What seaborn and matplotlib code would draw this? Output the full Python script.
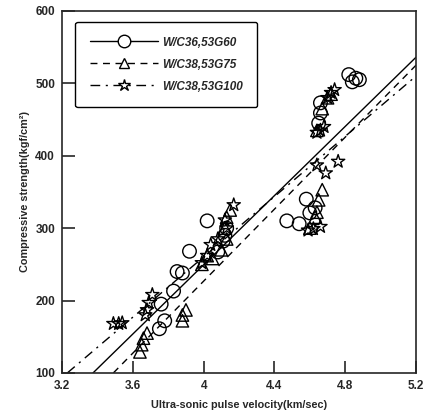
import numpy as np
import pandas as pd
import matplotlib
matplotlib.use("Agg")
import matplotlib.pyplot as plt
from matplotlib.lines import Line2D
import seaborn as sns

# series labels
labels = ["W/C36,53G60", "W/C38,53G75", "W/C38,53G100"]

# G60 (circles)
g60_x = [3.75, 3.78, 3.76, 3.83, 3.85, 3.88, 3.92, 4.02, 4.08, 4.12, 4.13, 4.11,
         4.47, 4.54, 4.58, 4.60, 4.63, 4.66, 4.66, 4.65, 4.82, 4.86, 4.84, 4.88]
g60_y = [161, 172, 195, 213, 240, 238, 268, 310, 267, 290, 300, 282,
         310, 306, 340, 321, 328, 473, 459, 445, 512, 507, 502, 505]

# G75 (triangles)
g75_x = [3.64, 3.65, 3.66, 3.68, 3.88, 3.88, 3.90, 3.99, 4.02, 4.05, 4.10, 4.13,
         4.12, 4.13, 4.15, 4.60, 4.63, 4.64, 4.65, 4.67, 4.64, 4.67, 4.70, 4.72]
g75_y = [129, 139, 148, 155, 172, 180, 187, 250, 262, 258, 270, 285,
         300, 315, 325, 300, 315, 322, 339, 353, 435, 465, 480, 485]

# G100 (stars)
g100_x = [3.49, 3.52, 3.54, 3.67, 3.68, 3.69, 3.71, 3.99, 4.02, 4.04, 4.08, 4.12,
          4.13, 4.17, 4.59, 4.62, 4.66, 4.64, 4.69, 4.76, 4.64, 4.66, 4.68, 4.70,
          4.72, 4.74]
g100_y = [168, 168, 169, 180, 187, 197, 208, 252, 262, 277, 285, 311,
          300, 332, 297, 299, 302, 387, 376, 392, 432, 435, 440, 480,
          487, 491]

# regression lines (end points)
fit_x = [[3.375, 5.2], [3.49, 5.2], [3.23, 5.2]]
fit_y = [[100, 536], [100, 525], [100, 510]]

xticks = [3.2, 3.6, 4.0, 4.4, 4.8, 5.2]
yticks = [100, 200, 300, 400, 500, 600]

sns.set_style("ticks")
plt.rcParams["font.family"] = ["Liberation Sans", "DejaVu Sans"]

fig = plt.figure(figsize=(4.28, 4.19), dpi=100)
ax = fig.add_axes([0.145, 0.110, 0.827, 0.864])

markers = ["o", "^", "*"]
sizes = [95, 80, 100]
styles = ["-", (0, (5, 4)), (0, (7, 4, 1.5, 4))]
series = [(g60_x, g60_y), (g75_x, g75_y), (g100_x, g100_y)]

for (sx, sy), m, s in zip(series, markers, sizes):
    sns.scatterplot(x=sx, y=sy, ax=ax, marker=m, s=s, facecolor="none",
                    edgecolor="black", linewidth=1.0, legend=False, zorder=3)

for fx, fy, ls in zip(fit_x, fit_y, styles):
    sns.lineplot(x=fx, y=fy, ax=ax, color="black", linestyle=ls, lw=1.0,
                 legend=False)

ax.set_xlim(3.2, 5.2)
ax.set_ylim(100, 600)
ax.set_xticks(xticks)
ax.set_yticks(yticks)
ax.set_xticklabels(["%g" % t for t in xticks])
ax.tick_params(direction="in", length=9, width=1.2, labelsize=8.5, pad=5)
for lab in ax.get_xticklabels() + ax.get_yticklabels():
    lab.set_fontweight("bold")
for sp in ax.spines.values():
    sp.set_linewidth(1.2)

ax.set_xlabel("Ultra-sonic pulse velocity(km/sec)", fontsize=7.8,
              fontweight="bold", labelpad=6)
ax.set_ylabel("Compressive strength(kgf/cm²)", fontsize=7.8,
              fontweight="bold", labelpad=4)

handles = [Line2D([], [], color="black", lw=1.0, linestyle=ls, marker=m,
                  markersize=ms, markerfacecolor="white",
                  markeredgecolor="black")
           for ls, m, ms in zip(styles, markers, [9, 7.5, 9])]
leg = ax.legend(handles, labels, loc="upper left",
                bbox_to_anchor=(0.037, 0.970), borderaxespad=0,
                numpoints=1, handlelength=5.8, handletextpad=0.3,
                labelspacing=0.85, borderpad=1.25, fancybox=True,
                framealpha=1, edgecolor="black",
                prop={"size": 8.5, "weight": "bold", "style": "italic"})
leg.get_frame().set_linewidth(1.0)

fig.savefig("out.png", dpi=100)
